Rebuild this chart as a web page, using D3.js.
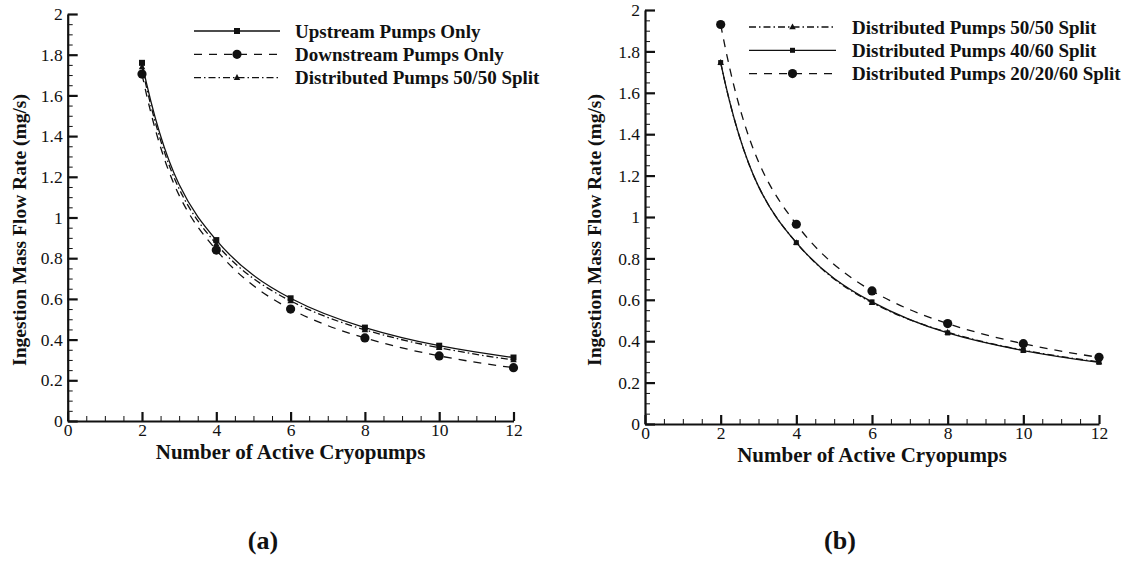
<!DOCTYPE html>
<html>
<head>
<meta charset="utf-8">
<script src="https://cdn.jsdelivr.net/npm/d3@7"></script>
<style>
  html, body { margin: 0; padding: 0; background: #fff; }
  svg { display: block; }
  text { font-family: "Liberation Serif", "Times New Roman", serif; fill: #111; }
</style>
</head>
<body>
<svg id="chart" width="1136" height="561"></svg>
<script>
// ---------- data ----------
const pumps = [2, 4, 6, 8, 10, 12];

// Panel (a)
const upstreamOnly   = [1.76, 0.889, 0.603, 0.459, 0.370, 0.312];
const downstreamOnly = [1.705, 0.840, 0.550, 0.408, 0.320, 0.262];
const distributed5050a = [1.74, 0.870, 0.590, 0.448, 0.360, 0.300];

// Panel (b)
const distributed5050b = [1.746, 0.876, 0.586, 0.443, 0.357, 0.300];
const distributed4060  = [1.746, 0.876, 0.590, 0.440, 0.355, 0.298];
const distributed202060 = [1.93, 0.965, 0.643, 0.485, 0.388, 0.322];

const seriesNamesA = ["Upstream Pumps Only", "Downstream Pumps Only", "Distributed Pumps 50/50 Split"];
const seriesNamesB = ["Distributed Pumps 50/50 Split", "Distributed Pumps 40/60 Split", "Distributed Pumps 20/20/60 Split"];

const xTicks = [0, 2, 4, 6, 8, 10, 12];
const yTicks = [0, 0.2, 0.4, 0.6, 0.8, 1, 1.2, 1.4, 1.6, 1.8, 2];
const xLabel = "Number of Active Cryopumps";
const yLabel = "Ingestion Mass Flow Rate (mg/s)";
const captions = ["(a)", "(b)"];

// ---------- drawing ----------
const svg = d3.select("#chart");
const INK = "#111";
const SERIF = '"Liberation Serif", "Times New Roman", serif';

const styles = {
  solid:   { dash: null },
  dashed:  { dash: "8,7" },
  dashdot: { dash: "7,3,1.5,3" }
};

// Custom D3 curve: cubic Hermite segments between the data points, with
// tangents taken from the local log-log slope (suits the ~1/x decay).
function curvePowerFactory(xs, ys) {
  const kx = xs(1) - xs(0), ky = ys(1) - ys(0);
  function Curve(context) { this._context = context; }
  Curve.prototype = {
    areaStart() {}, areaEnd() {},
    lineStart() { this._pts = []; },
    point(x, y) { this._pts.push([+x, +y]); },
    lineEnd() {
      const p = this._pts, n = p.length, c = this._context;
      if (!n) return;
      const X = p.map(d => xs.invert(d[0])), Y = p.map(d => ys.invert(d[1]));
      const m = p.map((d, i) => {
        const a = Math.max(0, i - 1), b = Math.min(n - 1, i + 1);
        const bexp = Math.log(Y[b] / Y[a]) / Math.log(X[b] / X[a]);
        return bexp * Y[i] / X[i] * ky / kx; // pixel slope
      });
      c.moveTo(p[0][0], p[0][1]);
      for (let i = 0; i < n - 1; i++) {
        const dx = (p[i + 1][0] - p[i][0]) / 3;
        c.bezierCurveTo(p[i][0] + dx, p[i][1] + m[i] * dx,
                        p[i + 1][0] - dx, p[i + 1][1] - m[i + 1] * dx,
                        p[i + 1][0], p[i + 1][1]);
      }
    }
  };
  return ctx => new Curve(ctx);
}

function marker(g, type, x, y, big) {
  if (type === "square") {
    const s = big ? 6 : 5;
    g.append("rect").attr("x", x - s / 2).attr("y", y - s / 2).attr("width", s).attr("height", s).attr("fill", INK);
  } else if (type === "circle") {
    g.append("circle").attr("cx", x).attr("cy", y).attr("r", 4.6).attr("fill", INK);
  } else if (type === "triangle") {
    const s = 6.5;
    const h = s * 0.9;
    g.append("path")
      .attr("d", `M${x},${y - h * 0.6}L${x + s / 2},${y + h * 0.4}L${x - s / 2},${y + h * 0.4}Z`)
      .attr("fill", INK);
  }
}

function styleTickText(sel) {
  sel.style("font-family", SERIF).style("font-size", "17.5px").style("font-weight", "normal").style("fill", INK);
}

function panel(cfg) {
  const g = svg.append("g");
  const x = d3.scaleLinear().domain([0, 12]).range([cfg.x0, cfg.x1]);
  const y = d3.scaleLinear().domain([0, 2]).range([cfg.yb, cfg.yt]);

  // minor ticks
  const minorY = d3.range(0, 2.0001, 0.05).filter(v => Math.abs(v * 5 - Math.round(v * 5)) > 1e-6);
  const minorX = d3.range(0, 12.0001, 0.5).filter(v => Math.abs(v / 2 - Math.round(v / 2)) > 1e-6);

  g.append("g").attr("transform", `translate(${cfg.x0},0)`)
    .call(d3.axisLeft(y).tickValues(minorY).tickSize(-5).tickSizeOuter(0).tickFormat(""))
    .call(a => a.select(".domain").remove())
    .call(a => a.selectAll("line").attr("stroke", INK).attr("stroke-width", 1));
  g.append("g").attr("transform", `translate(0,${cfg.yb})`)
    .call(d3.axisBottom(x).tickValues(minorX).tickSize(-5).tickSizeOuter(0).tickFormat(""))
    .call(a => a.select(".domain").remove())
    .call(a => a.selectAll("line").attr("stroke", INK).attr("stroke-width", 1));

  // major axes
  const ya = g.append("g").attr("transform", `translate(${cfg.x0},0)`)
    .call(d3.axisLeft(y).tickValues(yTicks).tickSize(-10).tickSizeOuter(0).tickPadding(5).tickFormat(d3.format("~g")));
  ya.select(".domain").attr("stroke", INK).attr("stroke-width", 2.2);
  ya.selectAll(".tick line").attr("stroke", INK).attr("stroke-width", 2.2);
  ya.selectAll(".tick text").call(styleTickText);

  const xa = g.append("g").attr("transform", `translate(0,${cfg.yb})`)
    .call(d3.axisBottom(x).tickValues(xTicks).tickSize(-9).tickSizeOuter(0).tickPadding(3).tickFormat(d3.format("d")));
  xa.select(".domain").attr("stroke", INK).attr("stroke-width", 2.2);
  xa.selectAll(".tick line").attr("stroke", INK).attr("stroke-width", 2.2);
  xa.selectAll(".tick text").call(styleTickText);

  // axis titles
  g.append("text").attr("x", (cfg.x0 + cfg.x1) / 2).attr("y", cfg.yb + 38)
    .attr("text-anchor", "middle").style("font-weight", "bold").style("font-size", "21px").text(xLabel);
  g.append("text").attr("transform", `translate(${cfg.ytx},${cfg.yty}) rotate(-90)`)
    .attr("text-anchor", "middle").style("font-weight", "bold").style("font-size", "19.5px").text(yLabel);

  // series
  const line = d3.line().x((d, i) => x(pumps[i])).y(d => y(d)).curve(curvePowerFactory(x, y));
  cfg.series.forEach(s => {
    g.append("path").datum(s.values).attr("d", line)
      .attr("fill", "none").attr("stroke", INK).attr("stroke-width", 1.3)
      .attr("stroke-dasharray", styles[s.style].dash);
    s.values.forEach((v, i) => marker(g, s.marker, x(pumps[i]), y(v), s.big));
  });

  // legend
  cfg.series.forEach((s, i) => {
    const ly = cfg.ly + i * 23.3;
    g.append("line").attr("x1", cfg.lx0).attr("x2", cfg.lx1).attr("y1", ly).attr("y2", ly)
      .attr("stroke", INK).attr("stroke-width", 1.3).attr("stroke-dasharray", styles[s.style].dash);
    marker(g, s.marker, (cfg.lx0 + cfg.lx1) / 2, ly, s.big);
    g.append("text").attr("x", cfg.ltx).attr("y", ly).attr("dy", "0.35em")
      .style("font-weight", "bold").style("font-size", "19px").text(s.name);
  });

  // caption
  g.append("text").attr("x", cfg.capx).attr("y", 549).attr("text-anchor", "middle")
    .style("font-weight", "bold").style("font-size", "26px").text(cfg.caption);
}

panel({
  x0: 67.7, x1: 513.5, yt: 14, yb: 421, ytx: 26, yty: 230,
  lx0: 194, lx1: 280, ltx: 295, ly: 31,
  capx: 263, caption: captions[0],
  series: [
    { name: seriesNamesA[0], values: upstreamOnly, style: "solid", marker: "square", big: true },
    { name: seriesNamesA[1], values: downstreamOnly, style: "dashed", marker: "circle", big: true },
    { name: seriesNamesA[2], values: distributed5050a, style: "dashdot", marker: "triangle", big: true }
  ]
});

panel({
  x0: 645, x1: 1099, yt: 10, yb: 424, ytx: 601, yty: 230,
  lx0: 749, lx1: 836, ltx: 852, ly: 27,
  capx: 840, caption: captions[1],
  series: [
    { name: seriesNamesB[0], values: distributed5050b, style: "dashdot", marker: "triangle", big: false },
    { name: seriesNamesB[1], values: distributed4060, style: "solid", marker: "square", big: false },
    { name: seriesNamesB[2], values: distributed202060, style: "dashed", marker: "circle", big: false }
  ]
});
</script>
</body>
</html>
